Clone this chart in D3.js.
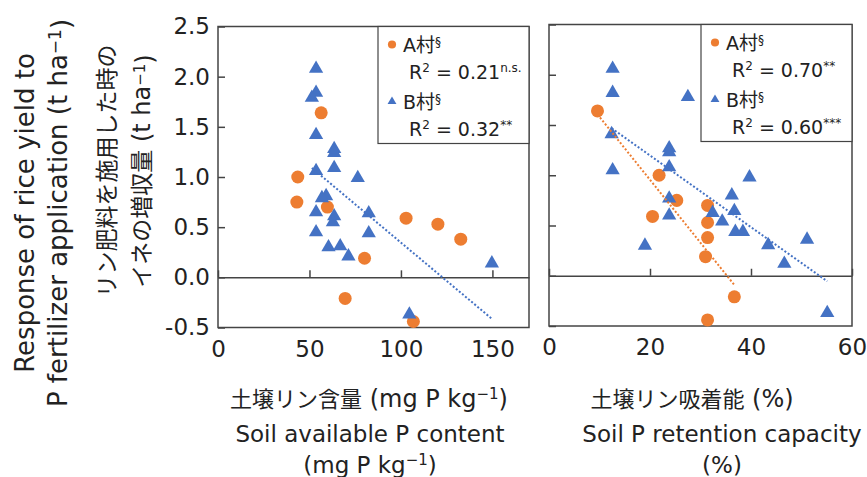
<!DOCTYPE html>
<html>
<head>
<meta charset="utf-8">
<script src="https://cdn.jsdelivr.net/npm/d3@7"></script>
<style>
  body { margin: 0; background: #fff; }
  text { font-family: "DejaVu Sans", "Noto Sans CJK JP", sans-serif; fill: #222; }
</style>
</head>
<body>
<div id="chart"></div>
<script>
// A village: yield response shared by both panels
var aYield = [1.64, 1.00, 0.75, 0.70, 0.59, 0.53, 0.38, 0.19, -0.21, -0.44];
var aAvailP = [56.4, 43.6, 43.1, 59.8, 102.8, 120.2, 132.7, 80.1, 69.5, 106.8];
var aRetention = [9.6, 21.8, 25.3, 31.4, 20.5, 31.4, 31.4, 31.0, 36.7, 31.4];

// B village, left panel (available P)
var bAvailP = [53.6, 53.6, 51.3, 53.6, 63.5, 63.5, 63.5, 53.6, 76.4, 59.1, 56.8, 53.6, 82.4,
               63.5, 62.8, 53.6, 82.4, 60.4, 66.8, 71.3, 149.7, 104.6];
var bYieldL = [2.08, 1.84, 1.79, 1.42, 1.28, 1.24, 1.09, 1.06, 0.99, 0.81, 0.79, 0.65, 0.64,
               0.61, 0.55, 0.45, 0.44, 0.30, 0.31, 0.21, 0.14, -0.37];

// B village, right panel (P retention)
var bRetention = [12.6, 12.6, 27.5, 12.4, 23.8, 23.8, 23.8, 12.6, 39.7, 36.2, 23.8, 36.7, 32.4,
                  23.8, 34.3, 36.9, 38.4, 19.0, 43.4, 51.1, 46.6, 55.1];
var bYieldR = [2.06, 1.82, 1.78, 1.41, 1.27, 1.23, 1.08, 1.05, 0.98, 0.80, 0.77, 0.645, 0.626,
               0.60, 0.54, 0.437, 0.437, 0.30, 0.305, 0.36, 0.12, -0.37];

var yTicks = [-0.5, 0, 0.5, 1.0, 1.5, 2.0, 2.5];
var leftXTicks = [0, 50, 100, 150];
var rightXTicks = [0, 20, 40, 60];
var legendLeft = [["A村", "0.21", "n.s."], ["B村", "0.32", "**"]];
var legendRight = [["A村", "0.70", "**"], ["B村", "0.60", "***"]];

var orange = "#ED7D31", blue = "#4472C4";

var svg = d3.select("#chart").append("svg")
  .attr("width", 867).attr("height", 477);

function fit(xs, ys) {
  var mx = d3.mean(xs), my = d3.mean(ys);
  var sxy = d3.sum(xs, function(x, i) { return (x - mx) * (ys[i] - my); });
  var sxx = d3.sum(xs, function(x) { return (x - mx) * (x - mx); });
  var b = sxy / sxx;
  return { slope: b, icpt: my - b * mx };
}

function panel(opt) {
  var x = d3.scaleLinear().domain(opt.xDomain).range(opt.xRange);
  var y = d3.scaleLinear().domain([-0.5, 2.5]).range(opt.yRange);
  var g = svg.append("g");

  // y axis, ticks inward
  var ya = g.append("g")
    .attr("transform", "translate(" + opt.xRange[0] + ",0)")
    .call(d3.axisLeft(y).tickValues(yTicks).tickSize(-7).tickSizeOuter(0)
      .tickFormat(opt.yLabels ? function(d) { return d.toFixed(1); } : ""));
  ya.selectAll("text").attr("x", -8).style("font-size", "23px").style("font-family", null);
  ya.selectAll("line").attr("stroke", "#444").attr("stroke-width", 1.5);
  ya.select(".domain").remove();

  // zero line with ticks pointing up
  var xa = g.append("g")
    .attr("transform", "translate(0," + y(0) + ")")
    .call(d3.axisBottom(x).tickValues(opt.xTicks).tickSize(-7).tickSizeOuter(0).tickFormat(""));
  xa.selectAll("line").attr("stroke", "#444").attr("stroke-width", 1.5);
  xa.select(".domain").attr("stroke", "#444").attr("stroke-width", 1.5);

  // tick labels at bottom
  var xl = g.append("g")
    .attr("transform", "translate(0," + opt.yRange[0] + ")")
    .call(d3.axisBottom(x).tickValues(opt.xTicks).tickSize(0).tickPadding(13));
  xl.select(".domain").remove();
  xl.selectAll("text").style("font-size", "23px").style("font-family", null);

  // frame
  g.append("rect")
    .attr("x", opt.xRange[0]).attr("y", opt.yRange[1])
    .attr("width", opt.xRange[1] - opt.xRange[0])
    .attr("height", opt.yRange[0] - opt.yRange[1])
    .attr("fill", "none").attr("stroke", "#444").attr("stroke-width", 1.5);

  // legend box
  var lg = g.append("g");
  lg.append("rect")
    .attr("x", opt.legendX).attr("y", opt.yRange[1])
    .attr("width", opt.xRange[1] - opt.legendX).attr("height", 117)
    .attr("fill", "#fff").attr("stroke", "#444").attr("stroke-width", 1.2);

  // points
  var circ = d3.symbol().type(d3.symbolCircle).size(133);
  var tri = d3.symbol().type(d3.symbolTriangle).size(88);
  g.selectAll(".a").data(opt.ax).enter().append("path")
    .attr("d", circ).attr("fill", orange)
    .attr("transform", function(d, i) { return "translate(" + x(d) + "," + y(opt.ay[i]) + ")"; });
  g.selectAll(".b").data(opt.bx).enter().append("path")
    .attr("d", tri).attr("fill", blue)
    .attr("transform", function(d, i) { return "translate(" + x(d) + "," + y(opt.by[i]) + ")"; });

  // trend lines
  opt.trends.forEach(function(t) {
    var f = fit(t.xs, t.ys);
    var x0 = d3.min(t.xs), x1 = d3.max(t.xs);
    g.append("line")
      .attr("x1", x(x0)).attr("y1", y(f.icpt + f.slope * x0))
      .attr("x2", x(x1)).attr("y2", y(f.icpt + f.slope * x1))
      .attr("stroke", t.color).attr("stroke-width", 2).attr("stroke-dasharray", "2,2");
  });

  // legend entries
  opt.legend.forEach(function(e, i) {
    var cy = opt.yRange[1] + 18 + i * 57;
    lg.append("path")
      .attr("d", d3.symbol().type(i ? d3.symbolTriangle : d3.symbolCircle).size(i ? 34 : 52))
      .attr("fill", i ? blue : orange)
      .attr("transform", "translate(" + (opt.legendX + 14) + "," + cy + ")");
    var t1 = lg.append("text").attr("x", opt.legendX + 25).attr("y", cy + 7).style("font-size", "19px");
    t1.append("tspan").text(e[0]);
    t1.append("tspan").attr("dy", -6).style("font-size", "12px").text("§");
    var t2 = lg.append("text").attr("x", opt.legendX + 31).attr("y", cy + 34).style("font-size", "19px");
    t2.append("tspan").text("R");
    t2.append("tspan").attr("dy", -7).style("font-size", "12px").text("2");
    t2.append("tspan").attr("dy", 7).text(" = " + e[1]);
    t2.append("tspan").attr("dy", -7).style("font-size", "12px").text(e[2]);
  });

  // axis titles
  var cx = opt.titleX;
  var t3 = svg.append("text").attr("x", opt.jpX).attr("y", 407)
    .attr("text-anchor", "middle").style("font-size", "22px");
  t3.append("tspan").text(opt.jpTitle);
  t3.append("tspan").style("font-size", "24px").text(opt.jpUnit);
  if (opt.sup) {
    t3.append("tspan").attr("dy", -8).style("font-size", "15px").text("−1");
    t3.append("tspan").attr("dy", 8).style("font-size", "24px").text(")");
  }
  svg.append("text").attr("x", cx).attr("y", 442).attr("text-anchor", "middle")
    .style("font-size", "23px").text(opt.enTitle);
  var t4 = svg.append("text").attr("x", cx).attr("y", 473).attr("text-anchor", "middle")
    .style("font-size", "23px");
  t4.append("tspan").text(opt.enTitle2);
  if (opt.sup) {
    t4.append("tspan").attr("dy", -8).style("font-size", "15px").text("−1");
    t4.append("tspan").attr("dy", 8).text(")");
  }
}

panel({
  xDomain: [0, 170], xRange: [218, 529], yRange: [327.5, 26.5],
  xTicks: leftXTicks, yLabels: true,
  ax: aAvailP, ay: aYield, bx: bAvailP, by: bYieldL,
  trends: [{ xs: bAvailP, ys: bYieldL, color: blue }],
  legendX: 378, legend: legendLeft,
  jpTitle: "土壌リン含量", jpUnit: " (mg P kg", sup: true, jpX: 369,
  enTitle: "Soil available P content", enTitle2: "(mg P kg", titleX: 370
});

panel({
  xDomain: [0, 60], xRange: [549, 852], yRange: [326, 24.5],
  xTicks: rightXTicks, yLabels: false,
  ax: aRetention, ay: aYield, bx: bRetention, by: bYieldR,
  trends: [{ xs: aRetention, ys: aYield, color: orange }, { xs: bRetention, ys: bYieldR, color: blue }],
  legendX: 701, legend: legendRight,
  jpTitle: "土壌リン吸着能", jpUnit: " (%)", sup: false, jpX: 692,
  enTitle: "Soil P retention capacity", enTitle2: "(%)", titleX: 722
});

// y axis titles (rotated)
function vText(x, y, size) {
  return svg.append("text")
    .attr("transform", "translate(" + x + "," + y + ") rotate(-90)")
    .attr("text-anchor", "middle").attr("dy", "0.35em").style("font-size", size);
}
vText(25, 213, "26px").text("Response of rice yield to");
var l2 = vText(58, 213, "26px");
l2.append("tspan").text("P fertilizer application (t ha");
l2.append("tspan").attr("dy", "-0.35em").style("font-size", "17px").text("−1");
l2.append("tspan").attr("dy", "0.35em").text(")");
vText(107, 171, "23px").text("リン肥料を施用した時の");
var l4 = vText(142, 171, "23px");
l4.append("tspan").text("イネの増収量");
l4.append("tspan").style("font-size", "24px").text(" (t ha");
l4.append("tspan").attr("dy", "-0.35em").style("font-size", "15px").text("−1");
l4.append("tspan").attr("dy", "0.35em").style("font-size", "24px").text(")");
</script>
</body>
</html>
